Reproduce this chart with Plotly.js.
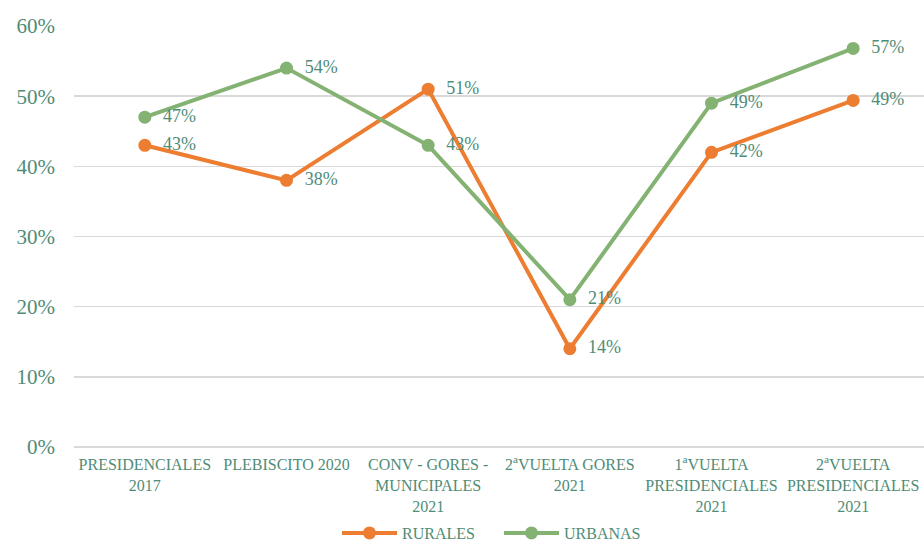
<!DOCTYPE html>
<html><head><meta charset="utf-8">
<script src="https://cdn.plot.ly/plotly-3.0.1.min.js"></script>
<style>html,body{margin:0;padding:0;background:#fff}#chart{width:924px;height:550px}</style>
</head><body><div id="chart"></div>
<script>
const categories = ["PRESIDENCIALES<br>2017","PLEBISCITO 2020","CONV - GORES -<br>MUNICIPALES<br>2021","2<sup>a</sup>VUELTA GORES<br>2021","1<sup>a</sup>VUELTA<br>PRESIDENCIALES<br>2021","2<sup>a</sup>VUELTA<br>PRESIDENCIALES<br>2021"];
const rurales = [43, 38, 51, 14, 42, 49.4];
const urbanas = [47, 54, 43, 21, 49, 56.8];
const yTicks = [0, 10, 20, 30, 40, 50, 60];
const yTickText = ["0%","10%","20%","30%","40%","50%","60%"];

const textColor = "#4f8c77";
const font = "'Liberation Serif', Georgia, 'DejaVu Serif', serif";

function trace(name, y, color) {
  return {
    type: "scatter", mode: "lines+markers+text", name: name,
    x: categories, y: y,
    line: {color: color, width: 4},
    marker: {color: color, size: 13},
    text: y.map(v => "\u00a0\u00a0" + Math.round(v) + "%"),
    textposition: "middle right",
    textfont: {family: font, size: 18, color: textColor},
    cliponaxis: false
  };
}

const data = [trace("RURALES", rurales, "#ED7D31"), trace("URBANAS", urbanas, "#84B273")];

const layout = {
  width: 924, height: 550,
  margin: {l: 74, r: 0, t: 26, b: 103},
  paper_bgcolor: "#fff", plot_bgcolor: "#fff",
  showlegend: true,
  legend: {orientation: "h", x: 0.5, xanchor: "center", y: -0.245, yanchor: "bottom",
           entrywidth: 92, entrywidthmode: "pixels", itemwidth: 55,
           font: {family: font, size: 16, color: textColor}},
  xaxis: {
    type: "category", range: [-0.5, 5.5], showgrid: false, zeroline: false, showline: false,
    tickfont: {family: font, size: 16, color: textColor},
    ticks: "", fixedrange: true, automargin: false, ticklabelstandoff: 6
  },
  yaxis: {
    range: [0, 60], tickvals: yTicks, ticktext: yTickText,
    showgrid: true, gridcolor: "#d9d9d9", gridwidth: 1.5,
    zeroline: true, zerolinecolor: "#d9d9d9", zerolinewidth: 1.5,
    showline: false, ticks: "",
    ticklabelstandoff: 18, automargin: false,
    tickfont: {family: font, size: 21, color: textColor}
  },
  font: {family: font, color: textColor}
};

Plotly.newPlot("chart", data, layout, {displayModeBar: false, staticPlot: true});
</script></body></html>
